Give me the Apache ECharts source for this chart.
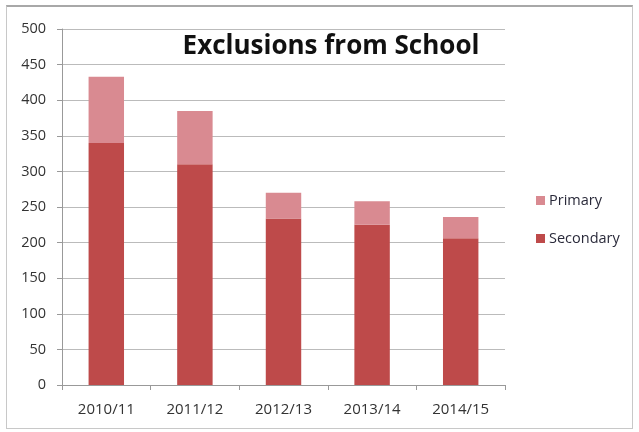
<!DOCTYPE html>
<html>
<head>
<meta charset="utf-8">
<script src="https://cdn.jsdelivr.net/npm/echarts@6/dist/echarts.min.js"></script>
<style>
html,body{margin:0;padding:0;background:#fff;}
#frame{position:absolute;left:6px;top:5px;width:627px;height:424px;border:1px solid #c8c8c8;border-top:2px solid #a8a8a8;box-sizing:border-box;}
#c{position:absolute;left:0;top:0;width:639px;height:432px;}
</style>
</head>
<body>
<div id="frame"></div>
<div id="c"></div>
<script>
var categories = ['2010/11','2011/12','2012/13','2013/14','2014/15'];
var secondary = [340, 310, 234, 225, 206];
var primary = [93, 75, 36, 33, 30];
var yTicks = [0, 50, 100, 150, 200, 250, 300, 350, 400, 450, 500];

var chart = echarts.init(document.getElementById('c'), null, {renderer:'canvas'});
var font = '"Open Sans", sans-serif';
chart.setOption({
  animation:false,
  backgroundColor:'transparent',
  title:{text:'Exclusions from School', left:326, top:29, textAlign:'center',
    textStyle:{fontFamily:font, fontSize:26, fontWeight:'bold', color:'#111'}},
  legend:{orient:'vertical', left:531, top:188, itemWidth:9, itemHeight:9, itemGap:23,
    data:['Primary','Secondary'], icon:'rect',
    textStyle:{fontFamily:font, fontSize:14.5, color:'#2a2a3a', padding:[0,0,0,-1]}},
  grid:{left:62, right:134, top:29, bottom:47, containLabel:false},
  xAxis:{type:'category', data:categories,
    axisLine:{lineStyle:{color:'#999'}},
    axisTick:{show:true, length:5, lineStyle:{color:'#999'}},
    axisLabel:{fontFamily:font, fontSize:15, color:'#333', margin:17}},
  yAxis:{type:'value', min:yTicks[0], max:yTicks[yTicks.length-1], interval:50,
    axisLine:{show:true, lineStyle:{color:'#999'}},
    axisTick:{show:true, length:5, lineStyle:{color:'#999'}},
    splitLine:{lineStyle:{color:'#bbb'}},
    axisLabel:{fontFamily:font, fontSize:14.5, color:'#333', margin:16}},
  series:[
    {name:'Secondary', type:'bar', stack:'t', data:secondary, barWidth:'40%',
      itemStyle:{color:'#be4a4a'}},
    {name:'Primary', type:'bar', stack:'t', data:primary, barWidth:'40%',
      itemStyle:{color:'#d98a91'}}
  ]
});
</script>
</body>
</html>
